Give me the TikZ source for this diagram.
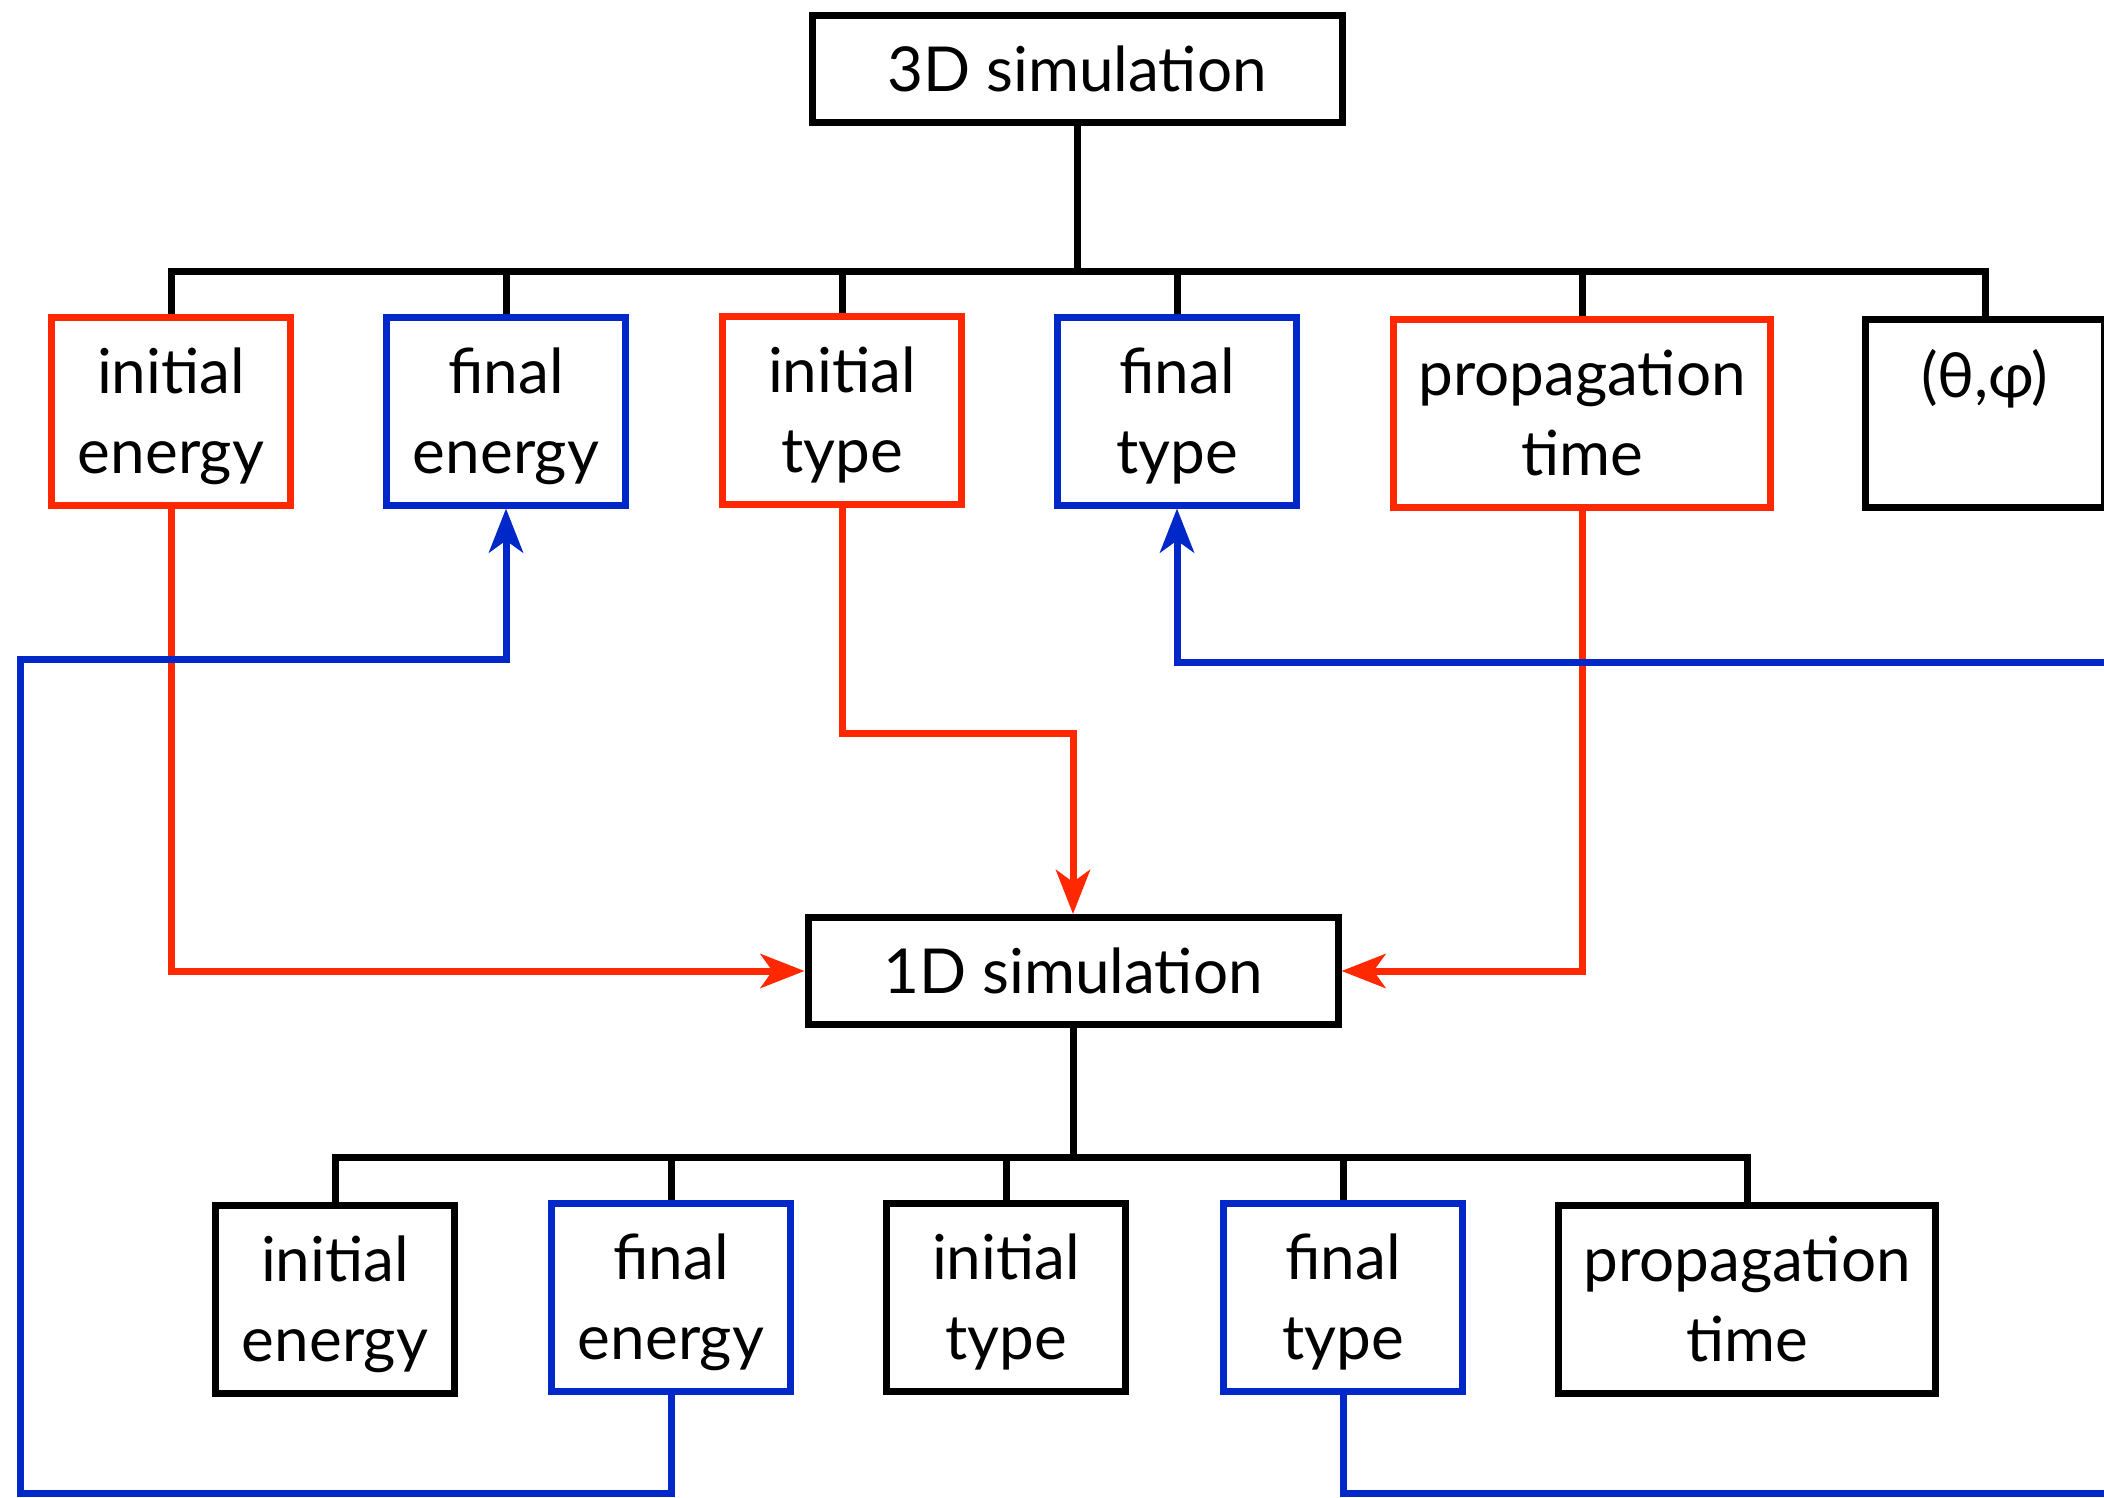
\documentclass[tikz,border=0pt]{standalone}
\usepackage{fontspec}
\setmainfont{Lato}
\usetikzlibrary{arrows.meta}
\definecolor{cred}{RGB}{255,40,0}
\definecolor{cblue}{RGB}{0,40,200}
\begin{document}
\begin{tikzpicture}[x=1pt,y=-1pt,
  box/.style={draw, line width=7pt, minimum width=239pt, minimum height=188pt, inner sep=0pt, align=center, text depth=0pt, font=\fontsize{62}{80}\selectfont},
  widebox/.style={box, minimum width=377pt},
  simbox/.style={box, minimum width=530pt, minimum height=107pt},
  redbox/.style={draw=cred},
  bluebox/.style={draw=cblue},
  tree/.style={line width=7pt},
  rline/.style={line width=7pt, cred},
  bline/.style={line width=7pt, cblue},
  tip/.style={-{Stealth[length=44pt, width=34pt, inset=12pt]}}
]
\clip (0,0) rectangle (2104,1498);
\fill[white] (0,0) rectangle (2104,1498);

% top level
\node[simbox] (s3) at (1077,69) {3D simulation};
\coordinate (bar3) at (0,271);

\node[box, redbox]  (t1) at (171,411) {initial\\energy};
\node[box, bluebox] (t2) at (506,411) {final\\energy};
\node[box, redbox]  (t3) at (842,410) {initial\\type};
\node[box, bluebox] (t4) at (1177,411) {final\\type};
\node[widebox, redbox] (t5) at (1582,413) {propagation\\time};
\node[box] (t6) at (1985,413) {(θ,φ)\\\mbox{}};

\draw[tree] (s3.south) -- (s3.south |- bar3);
\draw[tree] ([xshift=-3.5pt]t1.north |- bar3) -- ([xshift=3.5pt]t6.north |- bar3);
\foreach \n in {t1,t2,t3,t4,t5,t6} \draw[tree] (\n.north |- bar3) -- (\n.north);

% middle
\node[simbox] (s1) at (1073,971) {1D simulation};
\coordinate (bar1) at (0,1157);

\node[box] (b1) at (335,1299) {initial\\energy};
\node[box, bluebox] (b2) at (671,1297) {final\\energy};
\node[box] (b3) at (1006,1297) {initial\\type};
\node[box, bluebox] (b4) at (1343,1297) {final\\type};
\node[widebox] (b5) at (1747,1299) {propagation\\time};

\draw[tree] (s1.south) -- (s1.south |- bar1);
\draw[tree] ([xshift=-3.5pt]b1.north |- bar1) -- ([xshift=3.5pt]b5.north |- bar1);
\foreach \n in {b1,b2,b3,b4,b5} \draw[tree] (\n.north |- bar1) -- (\n.north);

% red inputs to 1D simulation
\coordinate (rmid) at (0,733);
\draw[rline, tip] (t1.south) |- (s1.west);
\draw[rline, tip] (t3.south) -- (t3.south |- rmid) -- (s1.north |- rmid) -- (s1.north);
\draw[rline, tip] (t5.south) |- (s1.east);

% blue feedback loops
\coordinate (lb) at (20,1493);
\coordinate (lm) at (20,659);
\draw[bline, tip] (b2.south) -- (b2.south |- lb) -- (lb) -- (lm) -- (t2.south |- lm) -- (t2.south);
\coordinate (rb) at (2130,1493);
\coordinate (rm) at (2130,662);
\draw[bline, tip] (b4.south) -- (b4.south |- rb) -- (rb) -- (rm) -- (t4.south |- rm) -- (t4.south);
\end{tikzpicture}
\end{document}
